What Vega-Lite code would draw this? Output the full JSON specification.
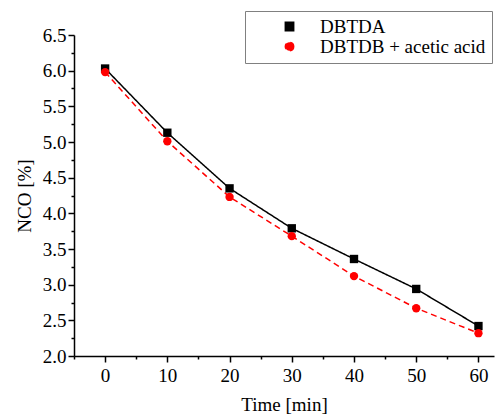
{
  "$schema": "https://vega.github.io/schema/vega-lite/v6.json",
  "width": 420,
  "height": 321,
  "autosize": {"type": "none"},
  "padding": {"left": 74, "top": 35, "right": 6, "bottom": 59},
  "background": "white",
  "config": {
    "view": {"stroke": null},
    "font": "Liberation Serif",
    "axis": {
      "domainColor": "black", "domainWidth": 1.5, "tickColor": "black", "tickWidth": 1.5,
      "labelColor": "black", "labelFont": "Liberation Serif", "labelFontSize": 19,
      "titleFont": "Liberation Serif", "titleFontSize": 19, "titleFontWeight": "normal",
      "titleColor": "black", "grid": false
    }
  },
  "data": {
    "values": [
      {"series": "DBTDA", "time": 0, "nco": 6.03},
      {"series": "DBTDA", "time": 10, "nco": 5.13},
      {"series": "DBTDA", "time": 20, "nco": 4.35},
      {"series": "DBTDA", "time": 30, "nco": 3.79},
      {"series": "DBTDA", "time": 40, "nco": 3.36},
      {"series": "DBTDA", "time": 50, "nco": 2.94},
      {"series": "DBTDA", "time": 60, "nco": 2.42},
      {"series": "DBTDB + acetic acid", "time": 0, "nco": 5.98},
      {"series": "DBTDB + acetic acid", "time": 10, "nco": 5.01},
      {"series": "DBTDB + acetic acid", "time": 20, "nco": 4.23},
      {"series": "DBTDB + acetic acid", "time": 30, "nco": 3.68},
      {"series": "DBTDB + acetic acid", "time": 40, "nco": 3.12},
      {"series": "DBTDB + acetic acid", "time": 50, "nco": 2.67},
      {"series": "DBTDB + acetic acid", "time": 60, "nco": 2.32}
    ]
  },
  "layer": [
    {
      "mark": {"type": "line", "strokeWidth": 1.5},
      "encoding": {
        "x": {
          "field": "time", "type": "quantitative",
          "scale": {"domain": [-5, 62.5], "nice": false, "zero": false},
          "axis": {"values": [0, 10, 20, 30, 40, 50, 60], "tickSize": 6, "labelPadding": 4, "title": "Time [min]", "titlePadding": 10, "labelFlush": false, "labelFont": "Liberation Serif"}
        },
        "y": {
          "field": "nco", "type": "quantitative",
          "scale": {"domain": [2, 6.5], "nice": false, "zero": false},
          "axis": {"values": [2, 2.5, 3, 3.5, 4, 4.5, 5, 5.5, 6, 6.5], "format": ".1f", "tickSize": 6, "labelPadding": 2, "title": "NCO [%]", "titlePadding": 8, "labelFlush": false, "labelFont": "Liberation Serif"}
        },
        "color": {
          "field": "series", "type": "nominal",
          "scale": {"domain": ["DBTDA", "DBTDB + acetic acid"], "range": ["#000000", "#ff0000"]},
          "legend": {
            "title": null, "orient": "none", "legendX": 171, "legendY": -24,
            "strokeColor": "#808080", "padding": 6, "fillColor": "white",
            "labelFont": "Liberation Serif", "labelFontSize": 19, "labelColor": "black", "labelLimit": 300,
            "symbolSize": 70, "symbolOffset": 29, "labelOffset": 21, "rowPadding": 0,
            "symbolStrokeWidth": 1.5, "symbolOpacity": 1
          }
        },
        "strokeDash": {
          "field": "series", "type": "nominal",
          "scale": {"domain": ["DBTDA", "DBTDB + acetic acid"], "range": [[1, 0], [6, 4]]},
          "legend": null
        }
      }
    },
    {
      "mark": {"type": "point", "filled": true, "opacity": 1, "size": 70},
      "encoding": {
        "x": {
          "field": "time", "type": "quantitative",
          "scale": {"domain": [-5, 62.5], "nice": false, "zero": false},
          "axis": {"orient": "bottom", "values": [-5, 5, 15, 25, 35, 45, 55], "labels": false, "domain": false, "tickSize": 3, "title": null}
        },
        "y": {
          "field": "nco", "type": "quantitative",
          "scale": {"domain": [2, 6.5], "nice": false, "zero": false},
          "axis": {"orient": "left", "values": [2.25, 2.75, 3.25, 3.75, 4.25, 4.75, 5.25, 5.75, 6.25], "labels": false, "domain": false, "tickSize": 3, "title": null}
        },
        "color": {"field": "series", "type": "nominal", "legend": null},
        "shape": {
          "field": "series", "type": "nominal",
          "scale": {"domain": ["DBTDA", "DBTDB + acetic acid"], "range": ["square", "circle"]},
          "legend": null
        }
      }
    }
  ],
  "resolve": {"axis": {"x": "independent", "y": "independent"}}
}
